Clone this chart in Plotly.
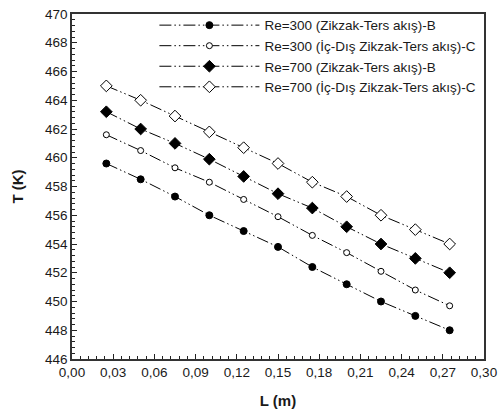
import plotly.graph_objects as go

L = [0.025, 0.05, 0.075, 0.10, 0.125, 0.15, 0.175, 0.20, 0.225, 0.25, 0.275]
re300_B = [459.6, 458.5, 457.3, 456.0, 454.9, 453.8, 452.4, 451.2, 450.0, 449.0, 448.0]
re300_C = [461.6, 460.5, 459.3, 458.3, 457.1, 455.9, 454.6, 453.4, 452.1, 450.8, 449.7]
re700_B = [463.2, 462.0, 461.0, 459.9, 458.7, 457.5, 456.5, 455.2, 454.0, 453.0, 452.0]
re700_C = [465.0, 464.0, 462.9, 461.8, 460.7, 459.6, 458.3, 457.3, 456.0, 455.0, 454.0]

names = ["Re=300 (Zikzak-Ters akış)-B",
         "Re=300 (İç-Dış Zikzak-Ters akış)-C",
         "Re=700 (Zikzak-Ters akış)-B",
         "Re=700 (İç-Dış Zikzak-Ters akış)-C"]

series = [re300_B, re300_C, re700_B, re700_C]
symbols = ["circle", "circle", "diamond", "diamond"]
fills = ["black", "white", "black", "white"]
sizes = [7, 6, 9, 9]

dash = "12px,3px,1.5px,3px,1.5px,3px"

fig = go.Figure()
for nm, ys, sym, fc, sz in zip(names, series, symbols, fills, sizes):
    fig.add_trace(go.Scatter(
        x=L, y=ys, name=nm, mode="lines+markers",
        line=dict(color="black", width=1, dash=dash),
        marker=dict(symbol=sym, size=sz, color=fc, line=dict(color="black", width=1)),
    ))

font_family = "Liberation Sans, Arial, sans-serif"
fig.update_layout(
    width=500, height=417,
    margin=dict(l=72, r=16, t=14, b=58, autoexpand=False),
    paper_bgcolor="white", plot_bgcolor="white",
    separators=", ",
    font=dict(family=font_family, size=13, color="#1a1a1a"),
    showlegend=True,
    legend=dict(x=0.2, y=1.012, xanchor="left", yanchor="top",
                bgcolor="rgba(0,0,0,0)", itemwidth=100,
                font=dict(size=13.5, family=font_family, color="#1a1a1a"),
                tracegroupgap=0),
    xaxis=dict(range=[0, 0.30], dtick=0.03, tick0=0, tickformat=".2f",
               ticks="inside", ticklen=5, tickcolor="#222",
               showline=True, linecolor="#333", linewidth=1.5, mirror=True,
               showgrid=False, zeroline=False,
               minor=dict(ticks="inside", dtick=0.006, ticklen=3, tickcolor="#222"),
               title=dict(text="<b>L (m)</b>", font=dict(size=15), standoff=17),
               tickfont=dict(size=13.5)),
    yaxis=dict(range=[446, 470], dtick=2, tick0=446,
               ticks="inside", ticklen=5, tickcolor="#222",
               showline=True, linecolor="#333", linewidth=1.5, mirror=True,
               showgrid=False, zeroline=False,
               minor=dict(ticks="inside", dtick=0.4, ticklen=3, tickcolor="#222"),
               title=dict(text="<b>T (K)</b>", font=dict(size=15), standoff=18),
               tickfont=dict(size=13.5)),
)

fig.write_html("out.html", config={"displayModeBar": False},
               post_script="document.body.style.margin='0';")
